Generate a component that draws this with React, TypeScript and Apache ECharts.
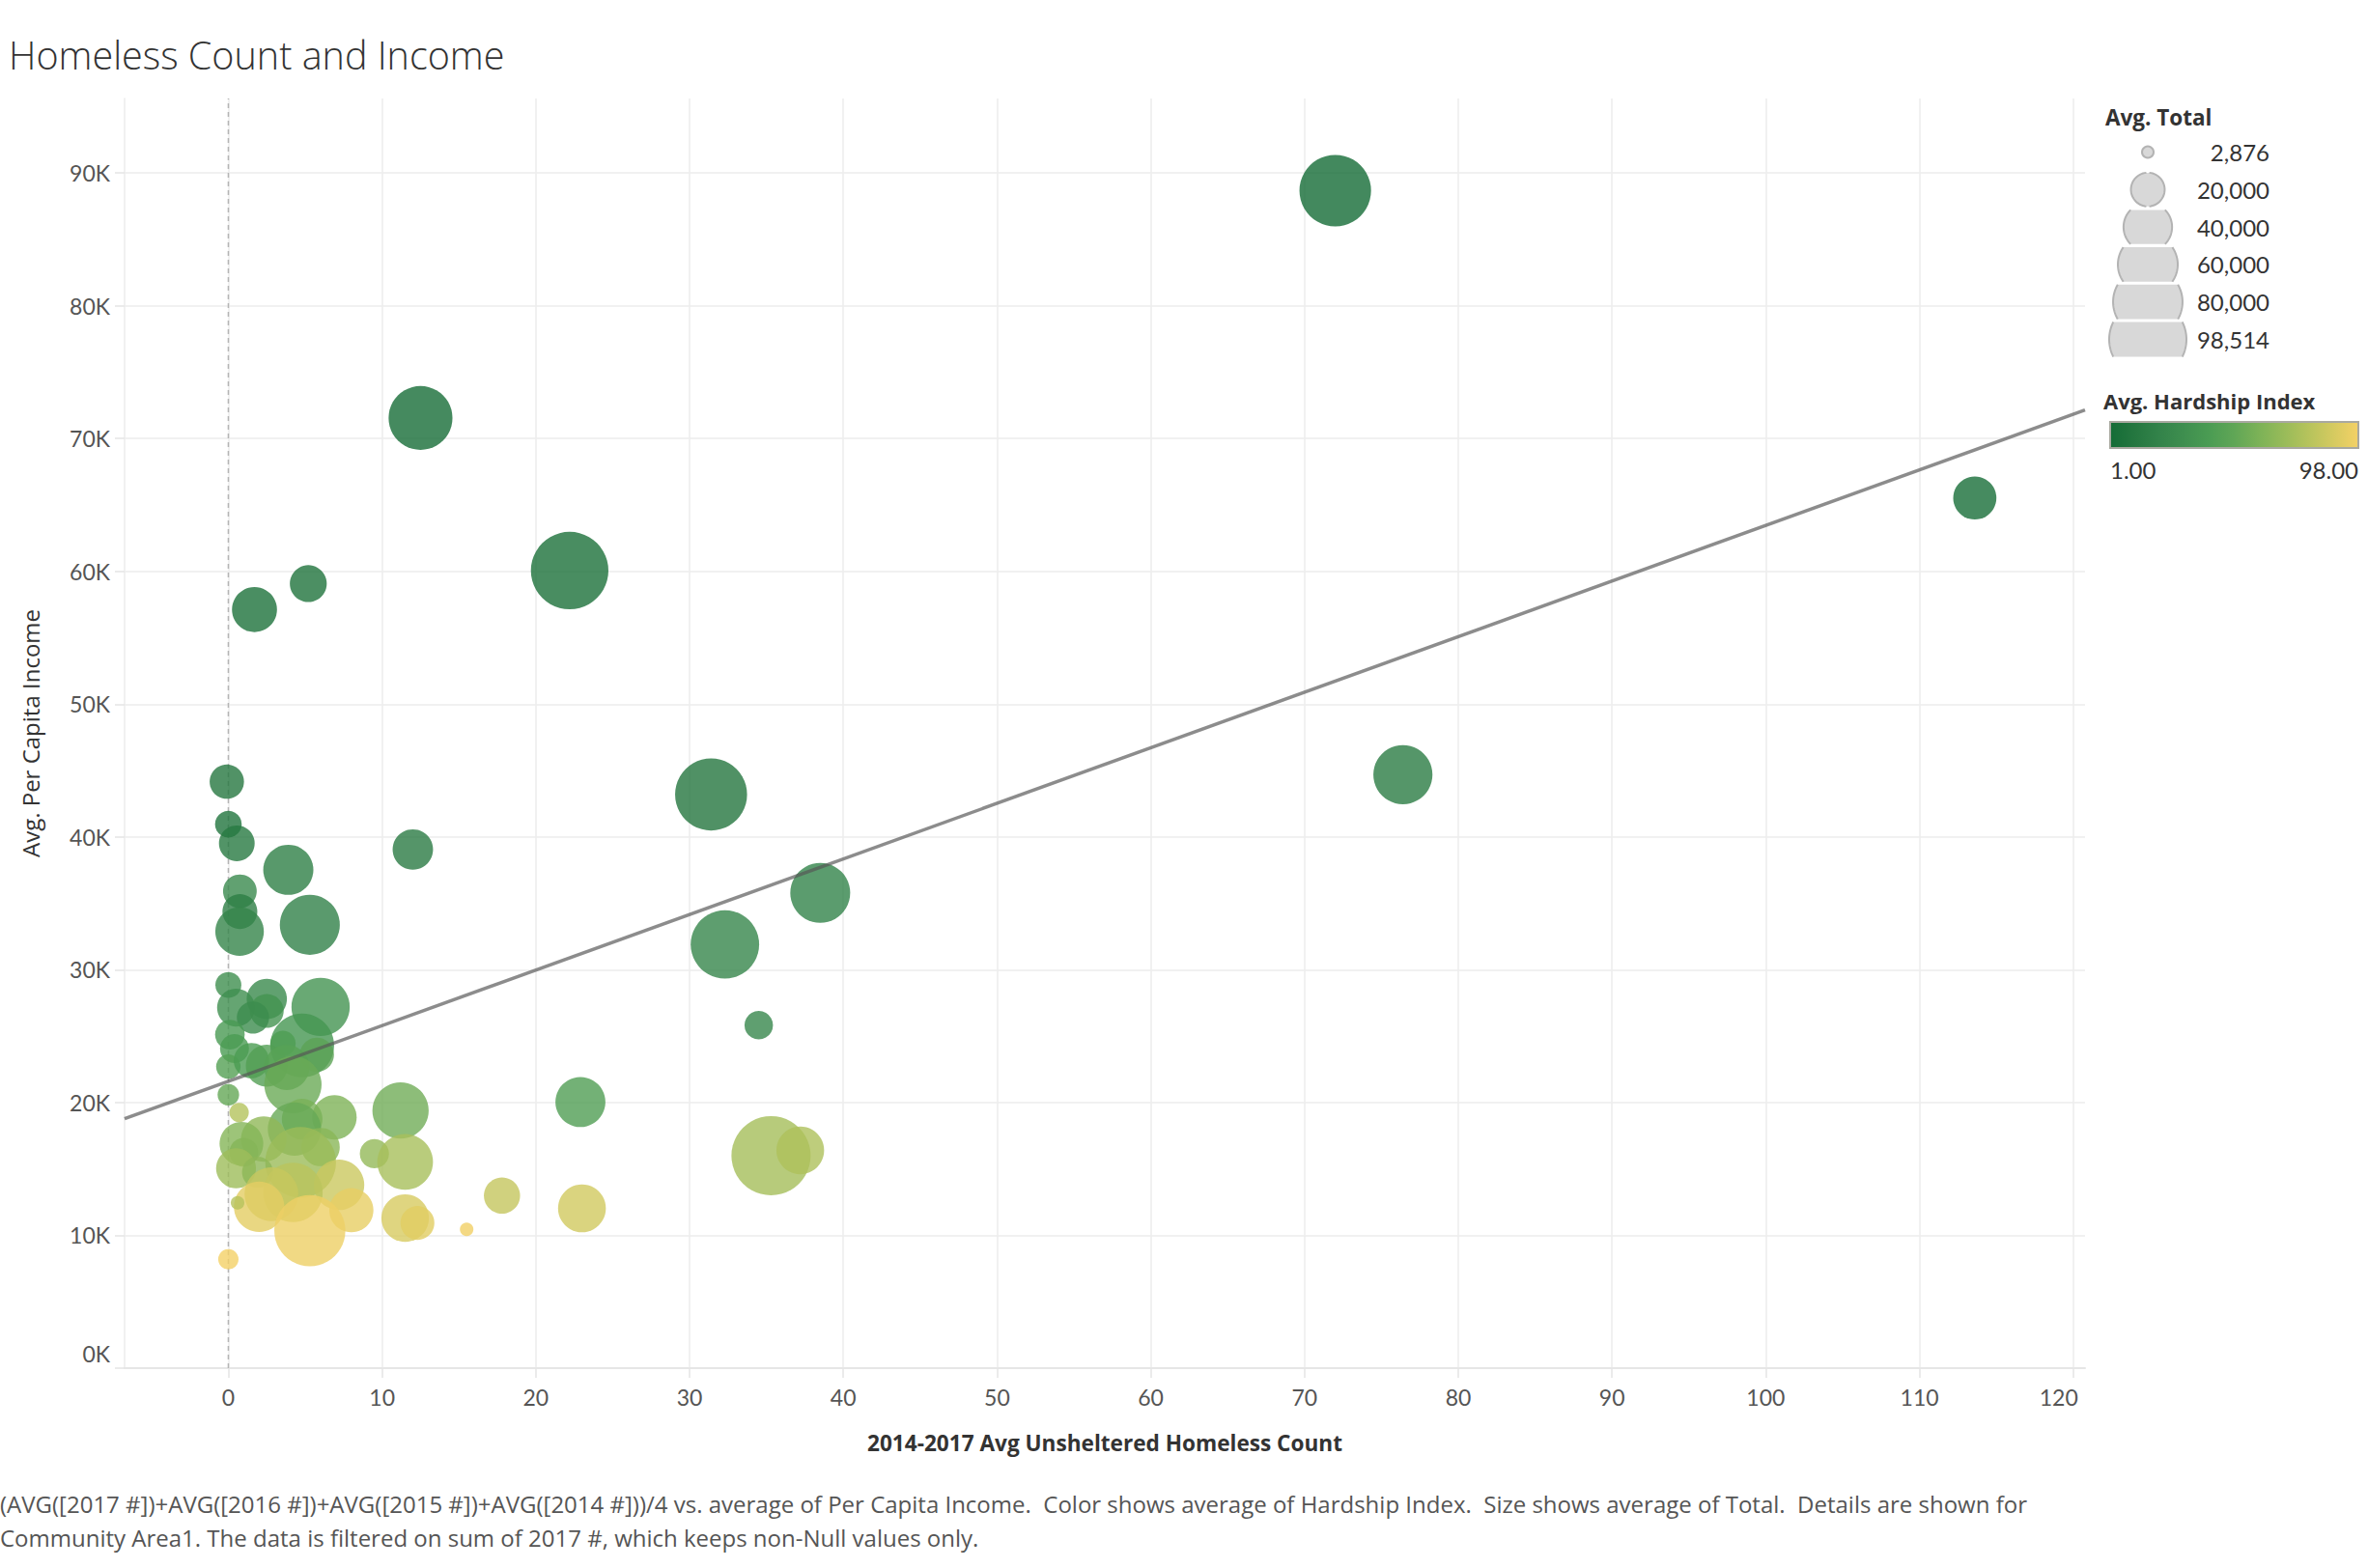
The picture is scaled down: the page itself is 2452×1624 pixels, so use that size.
import React, { useEffect, useRef } from 'react';
import * as echarts from 'echarts';

// ---- data ----
const areaNames = [
  'Near North Side', 'Lincoln Park', 'Loop', 'Lake View', 'Near South Side', 'North Center',
  'Near West Side', 'Forest Glen', 'West Town', 'Edison Park', 'Beverly', 'Hyde Park',
  'Lincoln Square', 'Kenwood', 'Uptown', 'Mount Greenwood', 'Edgewater', 'Norwood Park',
  'Logan Square', 'Montclare', 'Jefferson Park', 'Morgan Park', 'Irving Park', 'North Park',
  'Dunning', "O'Hare", 'Calumet Heights', 'Portage Park', 'Avalon Park', 'Rogers Park',
  'Douglas', 'Hegewisch', 'Grand Boulevard', 'Bridgeport', 'West Ridge', 'Albany Park',
  'Pullman', 'Avondale', 'Oakland', 'South Shore', 'Chatham', 'Woodlawn', 'Roseland',
  'Greater Grand Crossing', 'West Lawn', 'East Side', 'West Pullman', 'Belmont Cragin',
  'Archer Heights', 'Auburn Gresham', 'Hermosa', 'South Deering', 'Humboldt Park',
  'Chicago Lawn', 'Brighton Park', 'Gage Park', 'Burnside', 'Englewood', 'South Lawndale',
  'West Englewood', 'West Garfield Park', 'Fuller Park', 'East Garfield Park', 'Riverdale',
  'North Lawndale', 'Austin', 'Lower West Side'
];
const homelessCount = [
  72.0, 12.5, 113.6, 22.2, 5.2, 1.7,
  76.4, -0.1, 31.4, 0.0, 0.55, 12.0,
  3.9, 0.75, 38.5, 0.75, 5.3, 0.73,
  32.3, 0.0, 2.5, 0.5, 6.0, 2.5,
  1.6, 34.5, 0.1, 4.8, 3.55, 0.4,
  5.76, 0.0, 1.5, 2.5, 3.8, 4.2,
  0.0, 22.9, 0.7, 11.2, 6.9, 4.8, 4.3,
  2.3, 0.85, 6.0, 1.0, 4.7,
  9.5, 11.5, 0.5, 1.9, 7.2,
  4.2, 2.8, 2.0, 0.6, 8.0, 5.3,
  11.5, 12.3, 15.5, 17.8, 0.0,
  23.0, 35.3, 37.2
];
const perCapitaIncome = [
  88669, 71551, 65526, 60058, 59077, 57123,
  44689, 44164, 43198, 40959, 39523, 39056,
  37524, 35911, 35787, 34381, 33385, 32875,
  31908, 28850, 27800, 27150, 27200, 26900,
  26400, 25828, 25113, 24300, 24454, 24070,
  23600, 22700, 23160, 22770, 22640, 21350,
  20588, 20039, 19252, 19398, 18881, 18750, 18000,
  17250, 16900, 16650, 16250, 15500,
  16150, 15528, 15050, 14750, 13800,
  13231, 13100, 12150, 12450, 11888, 10350,
  11300, 10934, 10450, 12990, 8201,
  12034, 16000, 16400
];
const avgTotal = [
  80484, 64116, 29283, 94368, 21390, 31867,
  54881, 18508, 81432, 11187, 20034, 25681,
  39493, 17841, 56362, 19093, 56521, 37023,
  73595, 10600, 25448, 22544, 53359, 17931,
  16300, 12756, 13812, 64124, 10185, 13200,
  18238, 9426, 19600, 27600, 31900, 51542,
  7325, 39262, 5918, 49767, 31028, 25983, 44619,
  32602, 30000, 23042, 13000, 78743,
  13393, 48743, 25010, 15109, 40000,
  55628, 45368, 39894, 2916, 30654, 79288,
  35505, 18001, 2876, 20567, 6482,
  35912, 98514, 35769
];
const hardshipIndex = [
  1, 2, 3, 5, 7, 6,
  15, 11, 10, 8, 12, 14,
  17, 26, 20, 16, 19, 21,
  23, 30, 25, 30, 34, 33,
  28, 24, 38, 35, 41, 39,
  47, 44, 40, 43, 46, 53,
  51, 42, 78, 55, 60, 58, 52,
  66, 62, 64, 62, 70,
  67, 74, 71, 65, 85,
  80, 84, 93, 79, 94, 96,
  89, 92, 97, 83, 98,
  87, 73, 76
];

const xTicks = [0, 10, 20, 30, 40, 50, 60, 70, 80, 90, 100, 110, 120];
const yTicks = [0, 10000, 20000, 30000, 40000, 50000, 60000, 70000, 80000, 90000];
const xRange = [-6.75, 120.77];
const yRange = [0, 95610];

// trend line endpoints
const trendX = [-6.75, 120.77];
const trendY = [18780, 72150];

const sizeLegendValues = [2876, 20000, 40000, 60000, 80000, 98514];
const hardshipRange = [1, 98];
const greenGold = ['#146c36', '#257740', '#33834a', '#3f8f4f', '#4b9c53', '#60a656', '#7cb257', '#98bb59', '#b6c35c', '#d5ca60', '#f4d166'];

const footerLines = [
  '(AVG([2017 #])+AVG([2016 #])+AVG([2015 #])+AVG([2014 #]))/4 vs. average of Per Capita Income.  Color shows average of Hardship Index.  Size shows average of Total.  Details are shown for',
  'Community Area1. The data is filtered on sum of 2017 #, which keeps non-Null values only.'
];

const FONT = 'Lato, "Open Sans", "Noto Sans", sans-serif';
const FONT_W = '"Open Sans", Lato, "Noto Sans", sans-serif';
const MAX_TOTAL = 98514;
const MAX_R = 41;
const radiusOf = (t: number) => MAX_R * Math.sqrt(t / MAX_TOTAL);

function buildLegend(): any[] {
  const els: any[] = [];
  els.push({
    type: 'text', x: 2180, y: 121,
    style: { text: 'Avg. Total', fontFamily: FONT_W, fontSize: 22.5, fontWeight: 'bold', fill: '#333',
      align: 'left', textAlign: 'left', verticalAlign: 'middle', textVerticalAlign: 'middle' }
  });
  const cx = 2224;
  const h = 18.4;
  sizeLegendValues.forEach((v, i) => {
    const cy = 157.5 + 38.8 * i;
    const r = radiusOf(v);
    if (r <= h) {
      els.push({ type: 'circle', shape: { cx, cy, r: r - 1 }, style: { fill: '#d8d8d8', stroke: '#b3b3b3', lineWidth: 2 } });
    } else {
      const a = Math.asin(h / r);
      const n = 30;
      const right: number[][] = [];
      const left: number[][] = [];
      const rr = r - 1;
      for (let k = 0; k <= n; k++) {
        const t = -a + (2 * a * k) / n;
        right.push([cx + rr * Math.cos(t), cy + rr * Math.sin(t)]);
        left.push([cx - rr * Math.cos(t), cy + rr * Math.sin(t)]);
      }
      els.push({ type: 'polygon', shape: { points: right.concat(left.slice().reverse()) }, style: { fill: '#d8d8d8' } });
      els.push({ type: 'polyline', shape: { points: right }, style: { stroke: '#b3b3b3', lineWidth: 2, fill: null } });
      els.push({ type: 'polyline', shape: { points: left }, style: { stroke: '#b3b3b3', lineWidth: 2, fill: null } });
    }
    els.push({
      type: 'text', x: 2350, y: cy,
      style: { text: v.toLocaleString('en-US'), fontFamily: FONT, fontSize: 24, fill: '#333',
        align: 'right', textAlign: 'right', verticalAlign: 'middle', textVerticalAlign: 'middle' }
    });
  });
  els.push({
    type: 'text', x: 2178, y: 415,
    style: { text: 'Avg. Hardship Index', fontFamily: FONT_W, fontSize: 22, fontWeight: 'bold', fill: '#333',
      align: 'left', textAlign: 'left', verticalAlign: 'middle', textVerticalAlign: 'middle' }
  });
  els.push({
    type: 'rect', shape: { x: 2185, y: 437, width: 257, height: 27 },
    style: {
      fill: {
        type: 'linear', x: 0, y: 0, x2: 1, y2: 0,
        colorStops: greenGold.map((c, i) => ({ offset: i / (greenGold.length - 1), color: c }))
      },
      stroke: '#a9a9a0', lineWidth: 2
    }
  });
  els.push({
    type: 'text', x: 2185, y: 486,
    style: { text: hardshipRange[0].toFixed(2), fontFamily: FONT, fontSize: 24, fill: '#333',
      align: 'left', textAlign: 'left', verticalAlign: 'middle', textVerticalAlign: 'middle' }
  });
  els.push({
    type: 'text', x: 2442, y: 486,
    style: { text: hardshipRange[1].toFixed(2), fontFamily: FONT, fontSize: 24, fill: '#333',
      align: 'right', textAlign: 'right', verticalAlign: 'middle', textVerticalAlign: 'middle' }
  });
  footerLines.forEach((line, i) => {
    els.push({
      type: 'text', x: 0, y: 1557 + 35 * i,
      style: { text: line, fontFamily: FONT_W, fontSize: 24, fill: '#555',
        align: 'left', textAlign: 'left', verticalAlign: 'middle', textVerticalAlign: 'middle' }
    });
  });
  return els;
}

export default function App() {
  const ref = useRef<HTMLDivElement>(null);
  useEffect(() => {
    if (!ref.current) return;
    const chart = echarts.init(ref.current, null, { renderer: 'svg' });
    const bubbles = homelessCount.map((x, i) => [x, perCapitaIncome[i], avgTotal[i], hardshipIndex[i], areaNames[i]]);
    const gridColor = '#ececec';
    const lastX = xTicks[xTicks.length - 1];
    const option: any = {
      animation: false,
      backgroundColor: '#ffffff',
      textStyle: { fontFamily: FONT },
      title: {
        text: 'Homeless Count and Income', left: 4, top: 32,
        textStyle: { fontFamily: FONT_W, fontSize: 39.5, fontWeight: 300, color: '#333' }
      },
      grid: { left: 129, top: 102, width: 2030, height: 1315, containLabel: false },
      xAxis: {
        type: 'value', min: xRange[0], max: xRange[1],
        name: '2014-2017 Avg Unsheltered Homeless Count', nameLocation: 'middle', nameGap: 66,
        nameTextStyle: { fontFamily: FONT_W, fontSize: 22.6, fontWeight: 'bold', color: '#333' },
        axisLine: { show: true, onZero: false, lineStyle: { color: '#e6e6e6', width: 2 } },
        axisTick: { show: true, length: 10, customValues: xTicks, lineStyle: { color: '#e4e4e4', width: 1.5 } },
        axisLabel: {
          customValues: xTicks, fontFamily: FONT, fontSize: 23, color: '#555', margin: 18,
          formatter: (v: number) => (v === lastX ? `{e|${v}}` : `${v}`),
          rich: { e: { fontFamily: FONT, fontSize: 23, color: '#555', padding: [0, 30, 0, 0] } }
        },
        splitLine: { show: true, lineStyle: { color: gridColor, width: 1.5 } }
      },
      yAxis: {
        type: 'value', min: yRange[0], max: yRange[1],
        name: 'Avg. Per Capita Income', nameLocation: 'middle', nameGap: 86,
        nameTextStyle: { fontFamily: FONT_W, fontSize: 24, color: '#333' },
        axisLine: { show: true, onZero: false, lineStyle: { color: '#ececec', width: 1.5 } },
        axisTick: { show: true, length: 10, customValues: yTicks, lineStyle: { color: '#e4e4e4', width: 1.5 } },
        axisLabel: {
          customValues: yTicks, fontFamily: FONT, fontSize: 23, color: '#555', margin: 15,
          formatter: (v: number) => (v === 0 ? '{z|0K}' : `${Math.round(v / 1000)}K`),
          rich: { z: { fontFamily: FONT, fontSize: 23, color: '#555', padding: [0, 0, 30, 0] } }
        },
        splitLine: { show: true, lineStyle: { color: gridColor, width: 1.5 } }
      },
      visualMap: {
        type: 'continuous', show: false, seriesIndex: 1, dimension: 3,
        min: hardshipRange[0], max: hardshipRange[1],
        inRange: { color: greenGold }
      },
      series: [
        {
          type: 'line', data: [[0, yRange[0]], [0, yRange[1]]], showSymbol: false, silent: true, z: 1,
          lineStyle: { color: '#b5b5b5', width: 1.5, type: [5, 4] }
        },
        {
          type: 'scatter', data: bubbles, z: 2,
          symbolSize: (v: any[]) => 2 * radiusOf(v[2]),
          itemStyle: { opacity: 0.8 }
        },
        {
          type: 'line', data: trendX.map((x, i) => [x, trendY[i]]), showSymbol: false, silent: true, z: 3,
          lineStyle: { color: 'rgba(85,85,85,0.68)', width: 3.5 }
        }
      ],
      graphic: { elements: buildLegend() }
    };
    chart.setOption(option);
    return () => chart.dispose();
  }, []);
  return <div ref={ref} style={{ position: 'absolute', left: 0, top: 0, width: 2452, height: 1624 }} />;
}
